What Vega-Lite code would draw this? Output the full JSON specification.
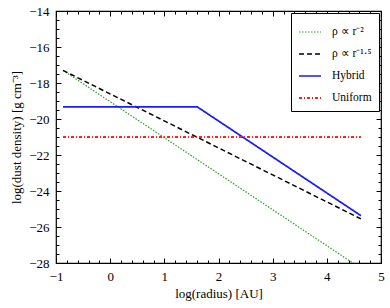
{
  "$schema": "https://vega.github.io/schema/vega-lite/v6.json",
  "width": 325,
  "height": 252,
  "autosize": {"type": "none"},
  "padding": {"left": 56, "top": 11, "right": 9, "bottom": 45},
  "background": "white",
  "config": {
    "font": "Liberation Serif",
    "view": {"stroke": "black", "strokeWidth": 1.2},
    "axis": {"domain": false, "grid": false, "labelFont": "Liberation Serif", "titleFont": "Liberation Serif", "labelFontSize": 13, "titleFontSize": 13, "titleFontWeight": "normal", "labelColor": "black", "titleColor": "black", "tickColor": "black", "tickWidth": 1}
  },
  "data": {
    "values": [
      {"series": "ρ ∝ r⁻²", "x": -0.87, "y": -17.3},
      {"series": "ρ ∝ r⁻²", "x": 4.63, "y": -28.3},
      {"series": "ρ ∝ r⁻¹·⁵", "x": -0.87, "y": -17.3},
      {"series": "ρ ∝ r⁻¹·⁵", "x": 4.63, "y": -25.55},
      {"series": "Hybrid", "x": -0.87, "y": -19.33},
      {"series": "Hybrid", "x": 1.61, "y": -19.33},
      {"series": "Hybrid", "x": 4.63, "y": -25.37},
      {"series": "Uniform", "x": -0.87, "y": -21.0},
      {"series": "Uniform", "x": 4.63, "y": -21.0}
    ]
  },
  "layer": [
    {
      "mark": {"type": "line", "clip": true},
      "encoding": {
        "x": {"field": "x", "type": "quantitative", "scale": {"domain": [-1, 5], "nice": false, "zero": false},
          "axis": {"orient": "bottom", "title": "log(radius) [AU]", "titlePadding": 2,
            "values": [-1,-0.8,-0.6,-0.4,-0.2,0,0.2,0.4,0.6,0.8,1,1.2,1.4,1.6,1.8,2,2.2,2.4,2.6,2.8,3,3.2,3.4,3.6,3.8,4,4.2,4.4,4.6,4.8,5],
            "labelExpr": "abs(datum.value % 1) < 0.001 ? replace(format(datum.value, 'd'), '-', '−') : ''",
            "tickSize": {"condition": {"test": "abs(datum.value % 1) < 0.001", "value": -5}, "value": -3},
            "labelPadding": 12, "labelFlush": false, "labelOverlap": false}},
        "y": {"field": "y", "type": "quantitative", "scale": {"domain": [-28, -14], "nice": false, "zero": false},
          "axis": {"orient": "left", "title": "log(dust density) [g cm⁻³]", "titlePadding": 5,
            "values": [-28,-27.5,-27,-26.5,-26,-25.5,-25,-24.5,-24,-23.5,-23,-22.5,-22,-21.5,-21,-20.5,-20,-19.5,-19,-18.5,-18,-17.5,-17,-16.5,-16,-15.5,-15,-14.5,-14],
            "labelExpr": "abs(datum.value % 2) < 0.001 ? replace(format(datum.value, 'd'), '-', '−') : ''",
            "tickSize": {"condition": {"test": "abs(datum.value % 2) < 0.001", "value": -5}, "value": -3},
            "labelPadding": 12, "labelFlush": false, "labelOverlap": false}},
        "color": {"field": "series", "type": "nominal",
          "scale": {"domain": ["ρ ∝ r⁻²", "ρ ∝ r⁻¹·⁵", "Hybrid", "Uniform"], "range": ["#22a022", "#000000", "#1a1aff", "#ff2020"]},
          "legend": {"title": null, "orient": "top-right", "offset": 2, "strokeColor": "black", "fillColor": "white", "padding": 7,
            "symbolType": "stroke", "symbolSize": 484, "labelFontSize": 11.5, "labelFont": "Liberation Serif", "labelColor": "black", "rowPadding": 4, "labelOffset": 10}},
        "strokeDash": {"field": "series", "type": "nominal",
          "scale": {"domain": ["ρ ∝ r⁻²", "ρ ∝ r⁻¹·⁵", "Hybrid", "Uniform"], "range": [[1.5, 1.5], [5, 3], [1, 0], [3, 2, 1, 2]]},
          "legend": {"title": null}},
        "strokeWidth": {"field": "series", "type": "nominal",
          "scale": {"domain": ["ρ ∝ r⁻²", "ρ ∝ r⁻¹·⁵", "Hybrid", "Uniform"], "range": [1.2, 2, 2, 1.2]},
          "legend": {"title": null}}
      }
    },
    {
      "mark": {"type": "line", "opacity": 0},
      "encoding": {
        "x": {"field": "x", "type": "quantitative", "scale": {"domain": [-1, 5], "nice": false, "zero": false},
          "axis": {"orient": "top", "title": null, "labels": false,
            "values": [-1,-0.8,-0.6,-0.4,-0.2,0,0.2,0.4,0.6,0.8,1,1.2,1.4,1.6,1.8,2,2.2,2.4,2.6,2.8,3,3.2,3.4,3.6,3.8,4,4.2,4.4,4.6,4.8,5],
            "tickSize": {"condition": {"test": "abs(datum.value % 1) < 0.001", "value": -5}, "value": -3}}},
        "y": {"field": "y", "type": "quantitative", "scale": {"domain": [-28, -14], "nice": false, "zero": false},
          "axis": {"orient": "right", "title": null, "labels": false,
            "values": [-28,-27.5,-27,-26.5,-26,-25.5,-25,-24.5,-24,-23.5,-23,-22.5,-22,-21.5,-21,-20.5,-20,-19.5,-19,-18.5,-18,-17.5,-17,-16.5,-16,-15.5,-15,-14.5,-14],
            "tickSize": {"condition": {"test": "abs(datum.value % 2) < 0.001", "value": -5}, "value": -3}}},
        "detail": {"field": "series"}
      }
    }
  ],
  "resolve": {"scale": {"x": "independent", "y": "independent"}}
}
